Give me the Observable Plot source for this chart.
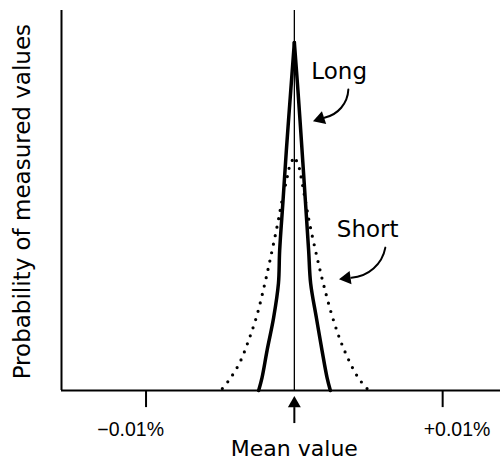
<!DOCTYPE html>
<html>
<head>
<meta charset="utf-8">
<script src="https://cdn.jsdelivr.net/npm/d3@7"></script>
<script src="https://cdn.jsdelivr.net/npm/@observablehq/plot@0.6"></script>
<style>
  html, body { margin: 0; padding: 0; background: #fff; }
  #chart svg { display: block; }
</style>
</head>
<body>
<div id="chart"></div>
<script>
// ---- Data (x in %, y = relative probability) ----
const longY      = [0, 0.034, 0.105, 0.192, 0.282, 0.368, 0.5, 0.632, 0.789, 0.916];
const longLeftX  = [-0.002407, -0.002178, -0.001841, -0.001396, -0.001072, -0.000991, -0.000762, -0.000539, -0.000243, 0];
const longRightX = [0.002428, 0.002205, 0.001868, 0.001483, 0.001099, 0.000964, 0.000742, 0.000519, 0.000243, 0];

const shortY      = [0.005, 0.032, 0.074, 0.132, 0.197, 0.276, 0.347, 0.439, 0.5, 0.571, 0.597, 0.613];
const shortLeftX  = [-0.004855, -0.004316, -0.003675, -0.003082, -0.002529, -0.002023, -0.001618, -0.001126, -0.000829, -0.000425, -0.00027, 0];
const shortRightX = [0.004902, 0.004336, 0.003742, 0.003102, 0.002542, 0.001989, 0.001551, 0.001032, 0.000742, 0.000405, 0.000249, 0];

const xTicks = [-0.01, 0.01];
const xTickLabels = ["\u22120.01%", "+0.01%"];

const seriesNames = ["Long", "Short"];
const labelX = [0.001146, 0.002866];
const labelY = [0.821, 0.405];
const arrowX1 = [0.003641, 0.006136];
const arrowY1 = [0.792, 0.376];
const arrowX2 = [0.002023, 0.003844];
const arrowY2 = [0.718, 0.297];
const headX = [0.001753, 0.003529];
const headY = [0.715, 0.2955];
const headRotate = [251.6, 261.9];

const xDomain = [-0.0157, 0.0139];
const yDomain = [0, 1];

// ---- Tables ----
const halves = (ys, left, right, name) =>
  ys.map((y, i) => ({x: left[i], y, z: name + "L"}))
    .concat(ys.map((y, i) => ({x: right[i], y, z: name + "R"})));
const longData = halves(longY, longLeftX, longRightX, "long");
const shortData = halves(shortY, shortLeftX, shortRightX, "short");
const ticks = xTicks.map((x, i) => ({x, label: xTickLabels[i]}));
const notes = seriesNames.map((name, i) => ({
  name, lx: labelX[i], ly: labelY[i],
  x1: arrowX1[i], y1: arrowY1[i], x2: arrowX2[i], y2: arrowY2[i],
  hx: headX[i], hy: headY[i], rot: headRotate[i]
}));

const sans = "DejaVu Sans, sans-serif";
const tickFont = "Liberation Sans, Arial, sans-serif";

const chart = Plot.plot({
  width: 500,
  height: 460,
  marginLeft: 61,
  marginRight: 0,
  marginTop: 10,
  marginBottom: 70,
  style: {background: "#fff", color: "#000"},
  x: {domain: xDomain, axis: null},
  y: {domain: yDomain, axis: null},
  marks: [
    // axes frame
    Plot.ruleX([xDomain[0]], {stroke: "#000", strokeWidth: 2}),
    Plot.ruleY([0], {stroke: "#000", strokeWidth: 1.8}),
    // mean line
    Plot.ruleX([0], {stroke: "#000", strokeWidth: 1.3}),
    // ticks
    Plot.ruleX(xTicks, {y1: 0, y2: -0.045, stroke: "#000", strokeWidth: 2}),
    // curves
    Plot.line(shortData, {x: "x", y: "y", z: "z", curve: "catmull-rom", stroke: "#000",
      strokeWidth: 3.2, strokeDasharray: "0,8.6", strokeLinecap: "round"}),
    Plot.line(longData, {x: "x", y: "y", z: "z", curve: "catmull-rom", stroke: "#000",
      strokeWidth: 3.5, strokeLinecap: "round", strokeLinejoin: "round"}),
    // annotations
    Plot.arrow(notes, {x1: "x1", y1: "y1", x2: "x2", y2: "y2", bend: 38, headLength: 0,
      stroke: "#000", strokeWidth: 2}),
    Plot.dot(notes, {x: "hx", y: "hy", rotate: "rot", symbol: "triangle", r: 5, fill: "#000", stroke: null}),
    Plot.text(notes, {x: "lx", y: "ly", text: "name", textAnchor: "start", lineAnchor: "bottom",
      fontSize: 23, fontFamily: sans, fill: "#000"}),
    // mean marker arrow under axis
    Plot.ruleX([0], {y1: -0.045, y2: -0.087, stroke: "#000", strokeWidth: 2}),
    Plot.dot([0], {x: d => d, y: -0.034, symbol: "triangle", r: 4.8, fill: "#000", stroke: null}),
    // tick labels
    Plot.text(ticks.filter(d => d.x < 0), {x: "x", y: 0, text: "label", textAnchor: "end", lineAnchor: "bottom",
      dx: 18, dy: 45, fontSize: 19.5, fontFamily: tickFont, fill: "#000"}),
    Plot.text(ticks.filter(d => d.x > 0), {x: "x", y: 0, text: "label", textAnchor: "start", lineAnchor: "bottom",
      dx: -19, dy: 45, fontSize: 19.5, fontFamily: tickFont, fill: "#000"}),
    // axis titles
    Plot.text(["Mean value"], {x: 0, y: 0, text: d => d, textAnchor: "middle", lineAnchor: "bottom",
      dy: 65, fontSize: 22, fontFamily: sans, fill: "#000"}),
    Plot.text(["Probability of measured values"], {x: xDomain[0], y: 0.497, text: d => d, rotate: -90,
      textAnchor: "middle", lineAnchor: "bottom", dx: -31.5, fontSize: 23, fontFamily: sans, fill: "#000"})
  ]
});
document.getElementById("chart").appendChild(chart);
</script>
</body>
</html>
